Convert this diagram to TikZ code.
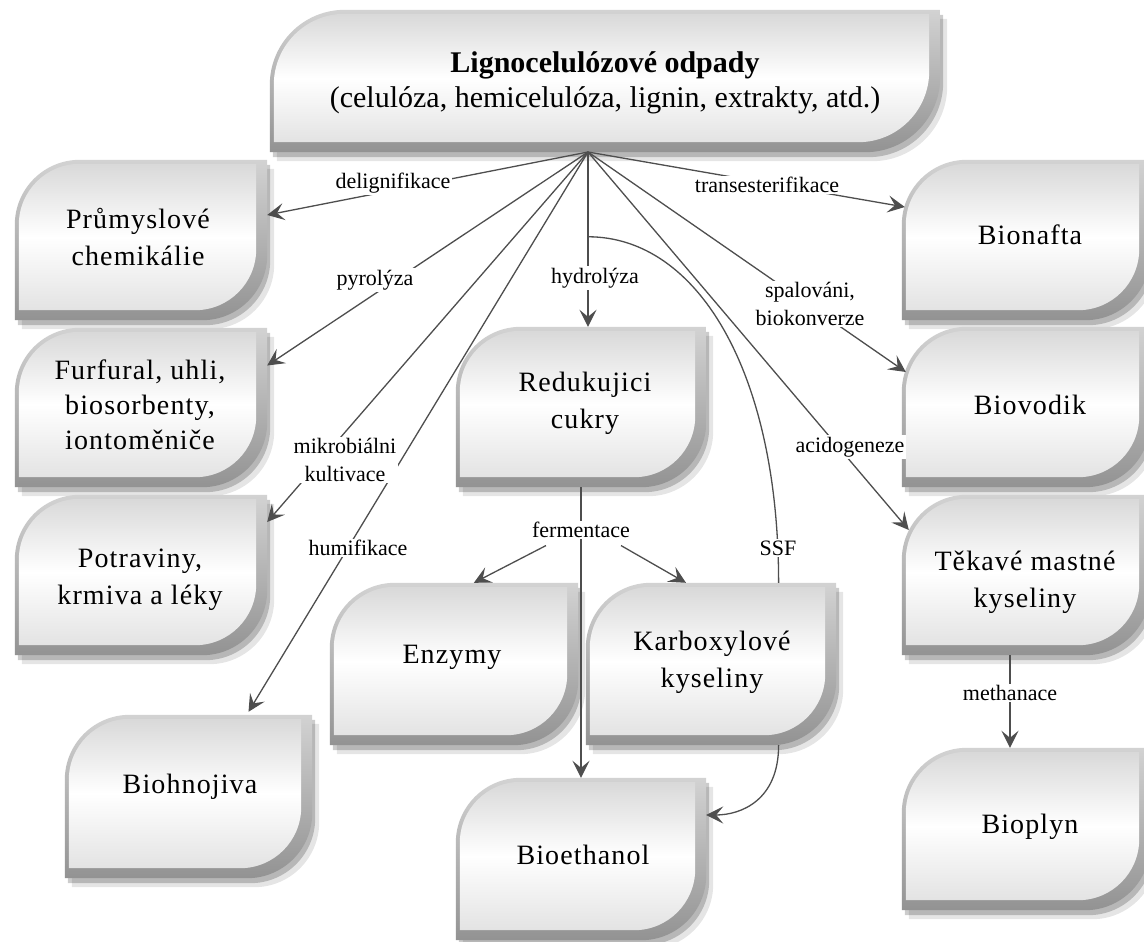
\documentclass[tikz,border=0pt]{standalone}
\usepackage{fontspec}
\setmainfont{Liberation Serif}
\newfontfamily\boxfont{Liberation Serif}[LetterSpace=4]
\usetikzlibrary{calc,arrows.meta}
\definecolor{ln}{RGB}{78,78,78}
% #1 node, #2 options, #3 left inset, #4 top inset, #5 right inset, #6 bottom inset, #7 radius
\newcommand\fbpath[7]{%
 \path[#2] let \p1=(#1.north west), \p2=(#1.south east) in
  ({\x1+(#3pt)},{\y2+(#6pt)}) -- ({\x1+(#3pt)},{\y1-(#4pt)-(#7pt)})
  .. controls ({\x1+(#3pt)},{\y1-(#4pt)-0.448*(#7pt)}) and ({\x1+(#3pt)+0.448*(#7pt)},{\y1-(#4pt)}) ..
  ({\x1+(#3pt)+(#7pt)},{\y1-(#4pt)}) -- ({\x2-(#5pt)},{\y1-(#4pt)}) -- ({\x2-(#5pt)},{\y2+(#6pt)+(#7pt)})
  .. controls ({\x2-(#5pt)},{\y2+(#6pt)+0.448*(#7pt)}) and ({\x2-(#5pt)-0.448*(#7pt)},{\y2+(#6pt)}) ..
  ({\x2-(#5pt)-(#7pt)},{\y2+(#6pt)}) -- cycle;}
\newcommand\fancybox[3]{%
 \fbpath{#1}{fill=black,opacity=0.10}{7}{9}{-7}{-9}{#2}%
 \fbpath{#1}{fill=black,opacity=0.20}{3}{5}{-3}{-5}{#2}%
 \fbpath{#1}{top color=gray!35,bottom color=gray!85}{0}{0}{0}{0}{#2}%
 \fbpath{#1}{top color=gray!30,bottom color=gray!22,middle color=white}{4}{4}{11}{10}{#3}}
\tikzset{
 bx/.style={rectangle,inner sep=0pt,draw=none},
 btxt/.style={font=\boxfont\fontsize{28}{37}\selectfont,align=center,inner sep=0pt},
 lbl/.style={font=\fontsize{22}{28}\selectfont,fill=white,inner sep=1.5pt,align=center},
 line/.style={draw=ln,line width=1.3pt},
 conn/.style={line,-{Stealth[length=17pt,width=17pt,inset=7pt]}}
}
\begin{document}
\begin{tikzpicture}[x=1pt,y=-1pt]
\useasboundingbox[fill=white] (0,0) rectangle (1144,942);
% boxes
\node[bx,minimum width=670,minimum height=142] (top) at (605,81) {};
\fancybox{top}{75}{71}
\node[inner sep=0pt,align=center,font=\fontsize{30}{35}\selectfont] (topT) at (605,83)
 {\textbf{Lignocelulózové odpady}\\(celulóza, hemicelulóza, lignin, extrakty, atd.)};

\node[bx,minimum width=252,minimum height=160] (prum) at (141,240) {};
\fancybox{prum}{65}{61}
\node[btxt] (prumT) at (138,237) {Průmyslové\\chemikálie};

\node[bx,minimum width=252,minimum height=159] (furf) at (141,407.5) {};
\fancybox{furf}{65}{61}
\node[btxt,font=\boxfont\fontsize{28}{35}\selectfont] (furfT) at (140,405) {Furfural, uhli,\\biosorbenty,\\iontoměniče};

\node[bx,minimum width=252,minimum height=160] (potr) at (141,575) {};
\fancybox{potr}{65}{61}
\node[btxt] (potrT) at (140,580) {Potraviny,\\krmiva a léky};

\node[bx,minimum width=247,minimum height=163] (bioh) at (188.5,796.5) {};
\fancybox{bioh}{65}{61}
\node[btxt] (biohT) at (190,787) {Biohnojiva};

\node[bx,minimum width=250,minimum height=160] (red) at (581,407) {};
\fancybox{red}{65}{61}
\node[btxt] (redT) at (585,403) {Redukujici\\cukry};

\node[bx,minimum width=248,minimum height=162] (enz) at (454,664) {};
\fancybox{enz}{65}{61}
\node[btxt] (enzT) at (452,657) {Enzymy};

\node[bx,minimum width=250,minimum height=162] (karb) at (711,664) {};
\fancybox{karb}{65}{61}
\node[btxt] (karbT) at (712,662) {Karboxylové\\kyseliny};

\node[bx,minimum width=250,minimum height=162] (bioe) at (581,859) {};
\fancybox{bioe}{65}{61}
\node[btxt] (bioeT) at (583,855) {Bioethanol};

\node[bx,minimum width=248,minimum height=160] (bnaf) at (1026,240) {};
\fancybox{bnaf}{65}{61}
\node[btxt] (bnafT) at (1030,235) {Bionafta};

\node[bx,minimum width=248,minimum height=160] (bvod) at (1026,407) {};
\fancybox{bvod}{65}{61}
\node[btxt] (bvodT) at (1030,405) {Biovodik};

\node[bx,minimum width=248,minimum height=160] (tek) at (1026,575) {};
\fancybox{tek}{65}{61}
\node[btxt] (tekT) at (1025,582) {Těkavé mastné\\kyseliny};

\node[bx,minimum width=248,minimum height=162] (biop) at (1026,829) {};
\fancybox{biop}{65}{61}
\node[btxt] (biopT) at (1030,827) {Bioplyn};

% connectors
\coordinate (hub) at (588,152);
\coordinate (hyd) at (red.north -| hub);
\coordinate (ssf0) at ($(hub)!0.485!(hyd)$);
\draw[conn] (hub) -- ([yshift=25pt]prum.east);
\draw[conn] (hub) -- ([yshift=42pt]furf.east);
\draw[conn] (hub) -- ([yshift=53pt]potr.east);
\draw[conn] (hub) -- ([xshift=60pt,yshift=3pt]bioh.north);
\draw[conn] (hub) -- (hyd);
\draw[conn] (hub) -- ([xshift=3pt,yshift=33pt]bnaf.west);
\draw[conn] (hub) -- ([xshift=4pt,yshift=35pt]bvod.west);
\draw[conn] (hub) -- ([xshift=7pt,yshift=45pt]tek.west);
\draw[line] (ssf0) .. controls +(110,0) and +(0,-210) .. ($(karb.north west)!0.77!(karb.north east)$);
\draw[conn] ($(karb.south west)!0.77!(karb.south east)$) .. controls +(0,55) and +(35,0) .. ([yshift=44pt]bioe.east);
\draw[conn] (red.south) -- (bioe.north);
\draw[conn] ([xshift=-16pt]tek.south) -- ([xshift=-16pt]biop.north);
% labels
\node[lbl] (dl) at (393,183) {delignifikace};
\node[lbl] (tr) at (767,185) {transesterifikace};
\node[lbl] (py) at (375,280) {pyrolýza};
\node[lbl] (hy) at (595,278) {hydrolýza};
\node[lbl] (sp) at (810,304) {spalováni,\\biokonverze};
\node[lbl] (mk) at (345,460) {mikrobiálni\\kultivace};
\node[lbl] (ac) at (850,447) {acidogeneze};
\node[lbl] (hu) at (358,548) {humifikace};
\node[lbl] (fe) at (581,530) {fermentace};
\node[lbl] (ss) at (778,548) {SSF};
\node[lbl] (me) at (1010,693) {methanace};
\draw[conn] ([xshift=-35pt,yshift=-6pt]fe.south) -- ($(enz.north west)!0.58!(enz.north east)$);
\draw[conn] ([xshift=40pt,yshift=-6pt]fe.south) -- ($(karb.north west)!0.40!(karb.north east)$);
\end{tikzpicture}
\end{document}
